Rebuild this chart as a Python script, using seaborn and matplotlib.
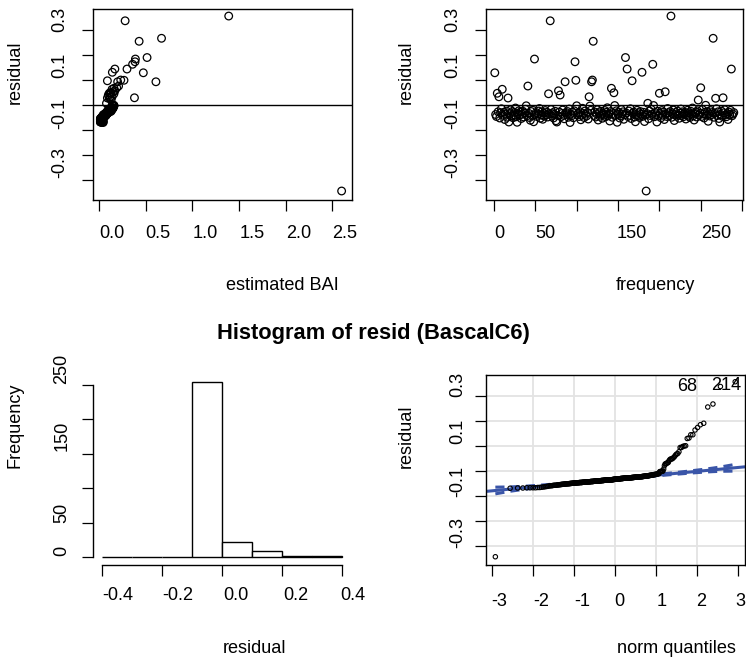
import numpy as np
import pandas as pd
import matplotlib
matplotlib.use("Agg")
import matplotlib.pyplot as plt
import seaborn as sns
from statistics import NormalDist

# residuals of the BascalC6 model, in observation order (1..290)
residuals = [
    0.129, -0.038, -0.046, 0.047, -0.027, 0.033, -0.052, -0.031, -0.015, 0.063,
    -0.041, -0.029, -0.058, -0.036, -0.024, -0.049, 0.028, -0.068, -0.034, -0.019,
    -0.044, -0.026, -0.051, -0.039, -0.030, -0.012, -0.047, -0.069, -0.035, -0.023,
    -0.040, -0.028, -0.054, -0.037, -0.025, -0.048, -0.032, -0.017, -0.003, -0.043,
    0.076, -0.033, -0.050, -0.061, -0.026, -0.042, -0.021, -0.067, 0.184, -0.038,
    -0.030, -0.046, -0.036, -0.024, -0.014, -0.053, -0.040, -0.027, -0.057, -0.033,
    -0.045, -0.022, -0.039, -0.029, -0.048, 0.045, -0.035, 0.337, -0.018, -0.044,
    -0.031, -0.052, -0.037, -0.025, -0.063, -0.068, -0.042, 0.057, -0.028, 0.040,
    -0.047, -0.034, -0.020, -0.041, -0.055, 0.093, -0.030, -0.038, -0.026, -0.049,
    -0.016, -0.070, -0.036, -0.043, -0.029, -0.051, -0.023, 0.173, 0.099, -0.003,
    -0.039, -0.032, -0.046, -0.027, -0.059, -0.041, -0.013, -0.034, -0.050, -0.024,
    -0.037, -0.044, -0.030, -0.056, 0.033, -0.004, -0.021, 0.093, 0.100, 0.255,
    -0.042, -0.028, -0.048, -0.035, -0.019, -0.060, -0.031, -0.045, -0.025, -0.038,
    -0.053, -0.033, -0.040, -0.022, -0.047, -0.029, -0.011, -0.043, -0.036, -0.064,
    -0.026, 0.067, -0.049, -0.034, 0.049, -0.002, -0.041, -0.023, -0.069, -0.037,
    -0.030, -0.052, -0.044, -0.018, -0.036, -0.027, -0.057, -0.039, 0.190, -0.032,
    0.144, -0.046, -0.024, -0.041, -0.015, -0.054, 0.097, -0.033, -0.028, -0.048,
    -0.067, -0.038, -0.021, -0.043, -0.031, -0.050, -0.026, -0.036, 0.131, -0.045,
    -0.029, -0.066, -0.040, -0.344, -0.034, 0.007, -0.055, -0.024, -0.042, -0.017,
    -0.037, 0.163, -0.002, -0.047, -0.030, -0.039, -0.068, -0.025, -0.044, 0.047,
    -0.033, -0.051, -0.022, -0.041, -0.028, -0.058, 0.053, -0.036, -0.046, -0.014,
    -0.031, -0.043, -0.026, 0.356, -0.049, -0.035, -0.020, -0.062, -0.038, -0.030,
    -0.045, -0.024, -0.040, -0.053, -0.032, -0.016, -0.042, -0.027, -0.047, -0.036,
    -0.029, -0.056, -0.039, -0.021, -0.044, -0.031, -0.050, -0.025, -0.037, -0.012,
    -0.043, -0.060, -0.034, -0.028, -0.048, -0.023, 0.020, -0.040, -0.033, 0.069,
    -0.046, -0.018, -0.036, -0.052, -0.029, -0.001, -0.041, -0.026, -0.065, -0.035,
    -0.044, -0.022, -0.038, -0.030, 0.267, -0.049, -0.033, 0.027, -0.015, -0.042,
    -0.027, -0.054, -0.068, -0.037, -0.024, -0.045, 0.029, -0.031, -0.019, -0.040,
    -0.047, -0.034, -0.058, -0.028, -0.039, -0.021, 0.144, -0.043, -0.036, -0.030,
]

# estimated BAI (fitted values), same order
fitted = [
    0.475, 0.06, 0.045, 0.11, 0.09, 0.12, 0.03, 0.075, 0.115, 0.14,
    0.06, 0.10, 0.03, 0.075, 0.115, 0.045, 0.09, 0.015, 0.09, 0.13,
    0.045, 0.09, 0.03, 0.06, 0.10, 0.14, 0.06, 0.03, 0.075, 0.115,
    0.075, 0.09, 0.015, 0.06, 0.13, 0.045, 0.075, 0.10, 0.15, 0.06,
    0.21, 0.09, 0.045, 0.03, 0.10, 0.06, 0.115, 0.045, 0.39, 0.075,
    0.09, 0.045, 0.075, 0.10, 0.13, 0.03, 0.06, 0.115, 0.015, 0.075,
    0.06, 0.115, 0.045, 0.09, 0.03, 0.16, 0.075, 0.28, 0.14, 0.045,
    0.10, 0.03, 0.06, 0.09, 0.045, 0.03, 0.075, 0.17, 0.09, 0.10,
    0.045, 0.075, 0.13, 0.06, 0.03, 0.61, 0.10, 0.06, 0.09, 0.03,
    0.14, 0.045, 0.075, 0.06, 0.09, 0.045, 0.115, 0.386, 0.268, 0.16,
    0.075, 0.09, 0.045, 0.10, 0.03, 0.06, 0.15, 0.075, 0.03, 0.115,
    0.06, 0.045, 0.10, 0.015, 0.14, 0.16, 0.13, 0.20, 0.233, 0.43,
    0.06, 0.09, 0.045, 0.075, 0.13, 0.03, 0.09, 0.045, 0.10, 0.06,
    0.03, 0.09, 0.06, 0.115, 0.045, 0.10, 0.15, 0.06, 0.075, 0.015,
    0.10, 0.16, 0.045, 0.075, 0.12, 0.14, 0.06, 0.115, 0.03, 0.075,
    0.09, 0.03, 0.06, 0.13, 0.075, 0.10, 0.015, 0.06, 0.515, 0.09,
    0.30, 0.045, 0.115, 0.06, 0.14, 0.03, 0.09, 0.075, 0.10, 0.045,
    0.03, 0.075, 0.115, 0.06, 0.09, 0.045, 0.10, 0.075, 0.143, 0.045,
    0.10, 0.015, 0.06, 2.60, 0.075, 0.08, 0.03, 0.115, 0.06, 0.13,
    0.075, 0.36, 0.15, 0.045, 0.09, 0.06, 0.03, 0.10, 0.045, 0.13,
    0.09, 0.03, 0.115, 0.06, 0.10, 0.015, 0.15, 0.075, 0.045, 0.14,
    0.09, 0.06, 0.10, 1.39, 0.045, 0.075, 0.13, 0.03, 0.06, 0.09,
    0.045, 0.115, 0.06, 0.03, 0.09, 0.14, 0.06, 0.10, 0.045, 0.075,
    0.10, 0.03, 0.075, 0.115, 0.06, 0.09, 0.045, 0.10, 0.075, 0.15,
    0.06, 0.015, 0.075, 0.10, 0.045, 0.115, 0.13, 0.06, 0.09, 0.19,
    0.045, 0.13, 0.075, 0.03, 0.09, 0.16, 0.06, 0.10, 0.03, 0.075,
    0.06, 0.115, 0.075, 0.09, 0.67, 0.045, 0.09, 0.11, 0.13, 0.06,
    0.10, 0.03, 0.015, 0.075, 0.115, 0.045, 0.38, 0.09, 0.13, 0.06,
    0.045, 0.075, 0.03, 0.10, 0.06, 0.115, 0.17, 0.06, 0.075, 0.09,
]

hist_breaks = [-0.4, -0.3, -0.2, -0.1, 0.0, 0.1, 0.2, 0.3, 0.4]
resid_ticks = [-0.3, -0.2, -0.1, 0.0, 0.1, 0.2, 0.3]
resid_tick_labels = ["0.3", "0.1", "-0.1", "-0.3"]

df = pd.DataFrame({"id": np.arange(1, len(residuals) + 1),
                   "fitted": fitted, "resid": residuals})

W, H = 746, 661
sns.set_style("white")
plt.rcParams["font.family"] = ["Liberation Sans", "DejaVu Sans"]
plt.rcParams["text.color"] = "black"
plt.rcParams["axes.labelcolor"] = "black"
plt.rcParams["xtick.color"] = "black"
plt.rcParams["ytick.color"] = "black"
FS = 13.1
BLUE = "#3a55a8"

fig = plt.figure(figsize=(W / 100, H / 100), dpi=100)


def box(x0, y0, x1, y1):
    # axes rectangle from pixel corners
    return [x0 / W, 1 - y1 / H, (x1 - x0) / W, (y1 - y0) / H]


def txt(px, py, s, rot=0, **kw):
    fig.text(px / W, 1 - py / H, s, ha="center", va="center", rotation=rot,
             fontsize=kw.pop("fontsize", FS), color="black", **kw)


def style_ticks(ax, length=8):
    ax.tick_params(axis="both", which="both", direction="out", length=length,
                   width=0.9, color="black", labelbottom=False, labelleft=False,
                   bottom=True, left=True)
    for sp in ax.spines.values():
        sp.set_linewidth(1.0)
        sp.set_color("black")


# ---- residual vs estimated BAI
ax1 = fig.add_axes(box(92.7, 9.3, 351.7, 200))
sns.scatterplot(data=df, x="fitted", y="resid", ax=ax1, s=30, marker="o",
                facecolor="none", edgecolor="black", linewidth=0.9, legend=False)
ax1.axhline(0, color="black", lw=1.0)
ax1.set_xlim(-0.0675, 2.708)
ax1.set_ylim(-0.38, 0.383)
ax1.set_xticks([0, 0.5, 1.0, 1.5, 2.0, 2.5])
ax1.set_yticks(resid_ticks)
ax1.set_xlabel("")
ax1.set_ylabel("")
style_ticks(ax1)

# ---- residual vs frequency (index)
ax2 = fig.add_axes(box(485.7, 9.3, 743.0, 200))
sns.scatterplot(data=df, x="id", y="resid", ax=ax2, s=30, marker="o",
                facecolor="none", edgecolor="black", linewidth=0.9, legend=False)
ax2.axhline(0, color="black", lw=1.0)
ax2.set_xlim(-10.0, 301.1)
ax2.set_ylim(-0.38, 0.383)
ax2.set_xticks([0, 50, 100, 150, 200, 250, 300])
ax2.set_yticks(resid_ticks)
ax2.set_xlabel("")
ax2.set_ylabel("")
style_ticks(ax2)

# ---- histogram
ax3 = fig.add_axes(box(92.5, 375, 351.6, 564.5))
sns.histplot(data=df, x="resid", bins=hist_breaks, ax=ax3, stat="count",
             color="white", edgecolor="black", linewidth=1.0, alpha=1)
ax3.set_xlim(-0.432, 0.432)
ax3.set_ylim(-10.4, 264.2)
ax3.set_xticks([-0.4, -0.2, 0.0, 0.2, 0.4])
ax3.set_yticks([0, 50, 100, 150, 200, 250])
ax3.spines["top"].set_visible(False)
ax3.spines["right"].set_visible(False)
ax3.spines["left"].set_bounds(0, 250)
ax3.spines["bottom"].set_bounds(-0.4, 0.4)
ax3.set_xlabel("")
ax3.set_ylabel("")
style_ticks(ax3, length=8)

# ---- normal QQ plot
ax4 = fig.add_axes(box(485.7, 375, 744.7, 565))
r_sorted = np.sort(df["resid"].to_numpy())
n = len(r_sorted)
P = (np.arange(1, n + 1) - 0.5) / n
nd = NormalDist()
z = np.array([nd.inv_cdf(p) for p in P])
q1, q3 = np.quantile(r_sorted, [0.25, 0.75])
slope = (q3 - q1) / (nd.inv_cdf(0.75) - nd.inv_cdf(0.25))
intercept = q1 - slope * nd.inv_cdf(0.25)
dens = np.array([nd.pdf(v) for v in z])
se = slope / dens * np.sqrt(P * (1 - P) / n)
fit_val = intercept + slope * z
qq = pd.DataFrame({"z": z, "r": r_sorted, "up": fit_val + 1.96 * se,
                   "lo": fit_val - 1.96 * se})

ax4.set_xlim(-3.16, 3.156)
ax4.set_ylim(-0.377, 0.383)
ax4.set_xticks([-3, -2, -1, 0, 1, 2, 3])
ax4.set_yticks(resid_ticks)
for v in [-2, -1, 0, 1, 2]:
    ax4.axvline(v, color="#e3e3e3", lw=1.3, zorder=0)
for v in resid_ticks:
    ax4.axhline(v, color="#e3e3e3", lw=1.3, zorder=0)
xl = np.array(ax4.get_xlim())
ax4.plot(xl, intercept + slope * xl, color=BLUE, lw=2.2, zorder=2)
sns.lineplot(data=qq, x="z", y="up", ax=ax4, color=BLUE, lw=2.2,
             linestyle=(0, (3, 2)), zorder=2)
sns.lineplot(data=qq, x="z", y="lo", ax=ax4, color=BLUE, lw=2.2,
             linestyle=(0, (3, 2)), zorder=2)
sns.scatterplot(data=qq, x="z", y="r", ax=ax4, s=10, marker="o",
                facecolor="none", edgecolor="black", linewidth=0.8,
                legend=False, zorder=3)
ax4.set_xlabel("")
ax4.set_ylabel("")
style_ticks(ax4)

# ---- texts (R style labels)
for xc in [60, 453]:
    for lab, yc in zip(resid_tick_labels, [19, 65, 113, 163]):
        txt(xc, yc, lab, rot=90)
for lab, xc in zip(["0.0", "0.5", "1.0", "1.5", "2.0", "2.5"],
                   [111.7, 158.3, 205, 251.7, 298.3, 344.3]):
    txt(xc, 233, lab)
for lab, xc in zip(["0", "50", "150", "250"], [499, 545.3, 631.3, 716.3]):
    txt(xc, 233, lab)
txt(15, 72, "residual", rot=90)
txt(406, 72, "residual", rot=90)
txt(282, 285, "estimated BAI")
txt(655.7, 285, "frequency")

txt(373, 333, "Histogram of resid (BascalC6)", fontsize=FS * 1.2,
    fontweight="bold")
txt(15, 425, "Frequency", rot=90)
for lab, yc in zip(["250", "150", "50", "0"], [369, 435.7, 513.3, 550.7]):
    txt(61.7, yc, lab, rot=90)
for lab, xc in zip(["-0.4", "-0.2", "0.0", "0.2", "0.4"],
                   [117.3, 177.3, 235.7, 295.7, 353.3]):
    txt(xc, 595, lab)
txt(255, 648.3, "residual")

txt(406, 436.7, "residual", rot=90)
for lab, yc in zip(resid_tick_labels, [384, 431.7, 481.7, 532.3]):
    txt(458, yc, lab, rot=90)
for lab, xc in zip(["-3", "-2", "-1", "0", "1", "2", "3"],
                   [499, 541.3, 582.3, 619.7, 661.3, 701.3, 740]):
    txt(xc, 602, lab)
txt(676, 648.3, "norm quantiles")
txt(687, 386, "68")
txt(726, 385, "214")

fig.savefig("out.png", dpi=100)
